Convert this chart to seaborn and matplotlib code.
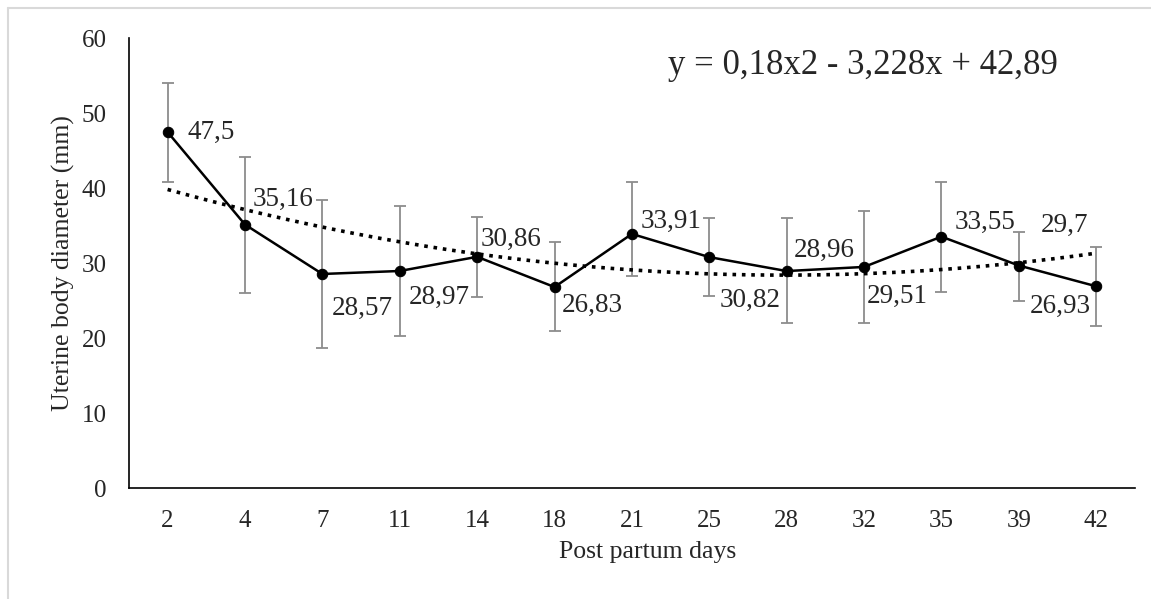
import numpy as np
import pandas as pd
import matplotlib
matplotlib.use("Agg")
import matplotlib.pyplot as plt
from matplotlib.lines import Line2D
import seaborn as sns

# --- data ---
days = ["2", "4", "7", "11", "14", "18", "21", "25", "28", "32", "35", "39", "42"]
mean_diameter = [47.5, 35.16, 28.57, 28.97, 30.86, 26.83, 33.91, 30.82, 28.96, 29.51, 33.55, 29.7, 26.93]
err_low = [40.8, 26.1, 18.7, 20.3, 25.5, 20.9, 28.3, 25.6, 22.0, 22.0, 26.2, 25.0, 21.6]
err_high = [54.1, 44.2, 38.4, 37.7, 36.2, 32.8, 40.8, 36.0, 36.0, 37.0, 40.8, 34.2, 32.2]
value_labels = ["47,5", "35,16", "28,57", "28,97", "30,86", "26,83", "33,91",
                "30,82", "28,96", "29,51", "33,55", "29,7", "26,93"]
trend_coef = [0.18, -3.228, 42.89]  # y = a*x^2 + b*x + c, x = 1..13
equation = "y = 0,18x2 - 3,228x + 42,89"

# label placement (pixel offsets from each point, and alignment)
label_offsets = [(20, 0), (8, 25), (9, -34), (9, -26), (3, 17), (7, -18), (9, 13),
                 (10, -43), (7, 21), (3, -29), (13, 14), (22, 40), (-5, -20)]
label_ha = ["left"] * 12 + ["right"]

sns.set_style("white")
plt.rcParams["font.family"] = ["Liberation Serif", "DejaVu Serif"]

df = pd.DataFrame({"day": days, "mean": mean_diameter})

fig = plt.figure(figsize=(11.51, 5.99), dpi=100)
ax = fig.add_axes([0.112, 0.185, 0.874, 0.751])

pos = np.arange(len(days))
ax.errorbar(pos, mean_diameter,
            yerr=[np.array(mean_diameter) - np.array(err_low),
                  np.array(err_high) - np.array(mean_diameter)],
            fmt="none", ecolor="#8c8c8c", elinewidth=1.3, capsize=4, capthick=1.3, zorder=2)

# polynomial trend line from the equation printed on the chart
xs = np.linspace(1, len(days), 200)
ys = np.polyval(trend_coef, xs)
ax.plot(xs - 1, ys, color="black", linestyle=(0, (1, 1.6)), linewidth=2.6, zorder=3)

sns.lineplot(data=df, x="day", y="mean", sort=False, ax=ax, color="black",
             linewidth=1.8, marker="o", markersize=7.5, markeredgecolor="black", zorder=4)

for i, txt in enumerate(value_labels):
    ax.annotate(txt, (pos[i], mean_diameter[i]), xytext=label_offsets[i],
                textcoords="offset pixels", ha=label_ha[i], va="center", fontsize=19.5)

ax.text(0.536, 0.94, equation, transform=ax.transAxes, ha="left", va="center", fontsize=25)

ax.set_xlim(-0.5, len(days) - 0.5)
ax.set_ylim(0, 60)
ax.set_yticks(range(0, 61, 10))
ax.set_xticks(pos)
ax.set_xticklabels(days)
ax.tick_params(axis="both", length=0, labelsize=18)
ax.tick_params(axis="y", pad=16)
ax.tick_params(axis="x", pad=16)
ax.set_xlabel("Post partum days", fontsize=18.5)
ax.set_ylabel("Uterine body diameter (mm)", fontsize=18.5)
ax.xaxis.set_label_coords(0.516, -0.118)
ax.yaxis.set_label_coords(-0.054, 0.5)

for side in ["top", "right"]:
    ax.spines[side].set_visible(False)
for side in ["left", "bottom"]:
    ax.spines[side].set_color("black")
    ax.spines[side].set_linewidth(1.2)

# light frame around the figure
fig.add_artist(Line2D([8 / 1151, 1], [1 - 8 / 599, 1 - 8 / 599], color="#d9d9d9", lw=1.5))
fig.add_artist(Line2D([8 / 1151, 8 / 1151], [0, 1 - 8 / 599], color="#d9d9d9", lw=1.5))

fig.savefig("out.png", dpi=100)
